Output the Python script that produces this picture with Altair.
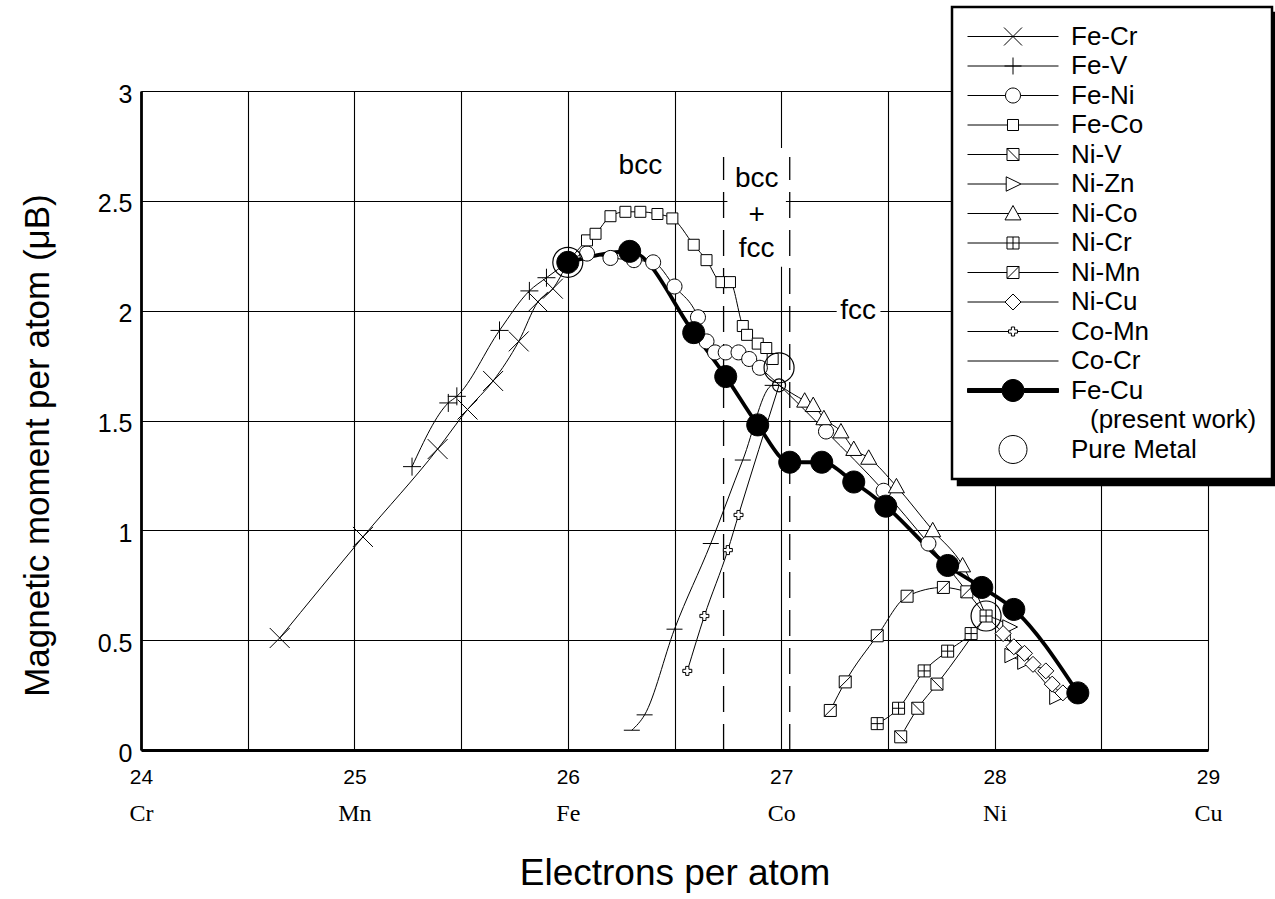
import altair as alt
import pandas as pd

SANS = "Liberation Sans"
SERIF = "Liberation Serif"

# ---------------- values ----------------
x_ticks = [24, 25, 26, 27, 28, 29]
elements = ["Cr", "Mn", "Fe", "Co", "Ni", "Cu"]
x_grid = [24, 24.5, 25, 25.5, 26, 26.5, 27, 27.5, 28, 28.5, 29]
y_grid = [0, 0.5, 1, 1.5, 2, 2.5, 3]

pure_names = ["Fe", "Co", "Ni"]
pure_x = [26.00, 26.99, 27.96]
pure_y = [2.22, 1.74, 0.61]
co_small_x = [26.99]
co_small_y = [1.66]

fe_cr_x = [24.65, 25.04, 25.39, 25.53, 25.65, 25.77, 25.86, 25.93]
fe_cr_y = [0.51, 0.97, 1.37, 1.55, 1.68, 1.86, 2.04, 2.10]

fe_v_x = [25.27, 25.44, 25.48, 25.68, 25.82, 25.90]
fe_v_y = [1.29, 1.58, 1.61, 1.91, 2.09, 2.15]

fe_ni_x = [26.09, 26.20, 26.31, 26.40, 26.50, 26.61, 26.65, 26.69, 26.74, 26.80,
           26.85, 26.90, 27.21, 27.48, 27.69]
fe_ni_y = [2.26, 2.24, 2.23, 2.22, 2.11, 1.97, 1.86, 1.81, 1.81, 1.81,
           1.78, 1.74, 1.45, 1.18, 0.94]

fe_co_x = [26.09, 26.13, 26.20, 26.27, 26.34, 26.42, 26.49, 26.59, 26.65, 26.72,
           26.76, 26.82, 26.84, 26.89, 26.93, 26.96]
fe_co_y = [2.32, 2.35, 2.43, 2.45, 2.45, 2.44, 2.42, 2.30, 2.23, 2.13,
           2.13, 1.93, 1.89, 1.85, 1.83, 1.78]

ni_v_x = [27.56, 27.64, 27.73]
ni_v_y = [0.06, 0.19, 0.30]

ni_zn_x = [28.07, 28.08, 28.14, 28.29]
ni_zn_y = [0.56, 0.43, 0.40, 0.24]

ni_co_x = [27.11, 27.15, 27.20, 27.28, 27.34, 27.41, 27.54, 27.71, 27.85]
ni_co_y = [1.59, 1.57, 1.51, 1.45, 1.37, 1.33, 1.20, 1.00, 0.84]

ni_cr_x = [27.45, 27.55, 27.67, 27.78, 27.89, 27.96]
ni_cr_y = [0.12, 0.19, 0.36, 0.45, 0.53, 0.61]

ni_mn_x = [27.23, 27.30, 27.45, 27.59, 27.76, 27.87]
ni_mn_y = [0.18, 0.31, 0.52, 0.70, 0.74, 0.72]

ni_cu_x = [28.04, 28.09, 28.14, 28.18, 28.24, 28.27, 28.32]
ni_cu_y = [0.53, 0.47, 0.44, 0.39, 0.36, 0.30, 0.26]

co_mn_x = [26.56, 26.64, 26.75, 26.80]
co_mn_y = [0.36, 0.61, 0.91, 1.07]

co_cr_x = [26.30, 26.36, 26.50, 26.67, 26.82, 26.96]
co_cr_y = [0.09, 0.16, 0.55, 0.94, 1.32, 1.66]

fe_cu_x = [26.00, 26.29, 26.59, 26.74, 26.89, 27.04, 27.19, 27.34, 27.49, 27.78,
           27.94, 28.09, 28.39]
fe_cu_y = [2.22, 2.27, 1.90, 1.70, 1.48, 1.31, 1.31, 1.22, 1.11, 0.84,
           0.74, 0.64, 0.26]

# annotations
ann_text = ["bcc", "bcc", "+", "fcc", "fcc"]
ann_x = [26.34, 26.885, 26.885, 26.885, 27.36]
ann_y = [2.66, 2.60, 2.435, 2.28, 2.00]
box_x1 = [26.748, 27.26]
box_x2 = [27.022, 27.465]
box_y1 = [2.20, 1.95]
box_y2 = [2.74, 2.05]
phase_x = [26.73, 27.04]
phase_top = [2.70, 2.70]

# ---------------- marker shapes (unit paths) ----------------
def f(v):
    return f"{v:.4f}"

def p_x(a): return f"M{f(-a)},{f(-a)}L{f(a)},{f(a)}M{f(-a)},{f(a)}L{f(a)},{f(-a)}"
def p_plus(a): return f"M{f(-a)},0L{f(a)},0M0,{f(-a)}L0,{f(a)}"
def p_circ(a): return f"M{f(-a)},0A{f(a)},{f(a)} 0 1,0 {f(a)},0A{f(a)},{f(a)} 0 1,0 {f(-a)},0Z"
def p_sq(a): return f"M{f(-a)},{f(-a)}L{f(a)},{f(-a)}L{f(a)},{f(a)}L{f(-a)},{f(a)}Z"
def p_sq_bs(a): return p_sq(a) + f"M{f(-a)},{f(-a)}L{f(a)},{f(a)}"
def p_sq_fs(a): return p_sq(a) + f"M{f(-a)},{f(a)}L{f(a)},{f(-a)}"
def p_sq_plus(a): return p_sq(a) + p_plus(a)
def p_tri_r(a): return f"M{f(-0.85*a)},{f(-0.9*a)}L{f(a)},0L{f(-0.85*a)},{f(0.9*a)}Z"
def p_tri_u(a): return f"M{f(-a)},{f(0.8*a)}L0,{f(-a)}L{f(a)},{f(0.8*a)}Z"
def p_diam(a): return f"M{f(-a)},0L0,{f(-a)}L{f(a)},0L0,{f(a)}Z"
def p_cross(a):
    b = 0.36 * a
    pts = [(-b, -a), (b, -a), (b, -b), (a, -b), (a, b), (b, b), (b, a), (-b, a),
           (-b, b), (-a, b), (-a, -b), (-b, -b)]
    return "M" + "L".join(f"{f(x)},{f(y)}" for x, y in pts) + "Z"
def p_dash(a): return f"M{f(-a)},0L{f(a)},0"

def h_line(left, right): return f"M-1,0L{f(left)},0M{f(right)},0L1,0"

FE = (pure_x[0], pure_y[0])
NI = (pure_x[2], pure_y[2])
COS = (co_small_x[0], co_small_y[0])

# name, x, y, line start, line end, shape, plot px, legend half px, fill, legend line gap
series = [
    ("Fe-Cr", fe_cr_x, fe_cr_y, None, FE, p_x, 20, 9.0, "white", None),
    ("Fe-V", fe_v_x, fe_v_y, None, FE, p_plus, 18, 8.5, "white", None),
    ("Fe-Ni", fe_ni_x, fe_ni_y, FE, NI, p_circ, 15, 7.5, "white", (1.0, 1.0)),
    ("Fe-Co", fe_co_x, fe_co_y, FE, None, p_sq, 11, 5.5, "white", (1.0, 1.0)),
    ("Ni-V", ni_v_x, ni_v_y, None, NI, p_sq_bs, 12, 6.0, "white", (1.0, 1.0)),
    ("Ni-Zn", ni_zn_x, ni_zn_y, NI, None, p_tri_r, 16, 8.0, "white", (0.85, 1.0)),
    ("Ni-Co", ni_co_x, ni_co_y, COS, NI, p_tri_u, 16, 8.0, "white", (0.556, 0.556)),
    ("Ni-Cr", ni_cr_x, ni_cr_y, None, None, p_sq_plus, 12, 6.0, "white", (1.0, 1.0)),
    ("Ni-Mn", ni_mn_x, ni_mn_y, None, None, p_sq_fs, 12, 6.0, "white", (1.0, 1.0)),
    ("Ni-Cu", ni_cu_x, ni_cu_y, NI, None, p_diam, 16, 8.0, "white", (1.0, 1.0)),
    ("Co-Mn", co_mn_x, co_mn_y, None, COS, p_cross, 9, 4.5, "white", (1.0, 1.0)),
    ("Co-Cr", co_cr_x, co_cr_y, None, COS, p_dash, 16, 0.0, "white", None),
    ("Fe-Cu", fe_cu_x, fe_cu_y, None, None, p_circ, 22, 11.0, "black", "thick"),
]

LEG_HALF = 45.5  # legend symbol half width in px

X_SCALE = alt.Scale(domain=[24, 29], nice=False, zero=False)
Y_SCALE = alt.Scale(domain=[0, 3], nice=False, zero=False)

def X(field="x", axis=None):
    return alt.X(f"{field}:Q", scale=X_SCALE, axis=axis)

def Y(field="y", axis=None):
    return alt.Y(f"{field}:Q", scale=Y_SCALE, axis=axis)

x_axis_main = alt.Axis(
    orient="bottom", values=x_grid, grid=True, gridColor="black", gridWidth=1.1,
    gridOpacity=1, domain=True, domainColor="black", domainWidth=2.8,
    ticks=False, tickSize=0,
    labelExpr="datum.value % 1 == 0 ? format(datum.value, 'd') : ''",
    labelFont=SANS, labelFontSize=21, labelColor="black", labelPadding=16,
    labelFlush=False, labelOverlap=False,
    title="Electrons per atom", titleFont=SANS, titleFontSize=37,
    titleFontWeight="normal", titleColor="black", titleY=134,
    titleBaseline="alphabetic",
)
elem_expr = "[" + ",".join(f"'{e}'" for e in elements) + "][round(datum.value) - 24]"
x_axis_elem = alt.Axis(
    orient="bottom", values=x_ticks, grid=False, domain=False, ticks=False, tickSize=0,
    labelExpr=elem_expr, labelFont=SERIF, labelFontSize=24, labelColor="black",
    labelPadding=51, labelFlush=False, labelOverlap=False, title=None,
)
y_axis_main = alt.Axis(
    orient="left", values=y_grid, grid=True, gridColor="black", gridWidth=1.1,
    gridOpacity=1, domain=True, domainColor="black", domainWidth=2.8,
    ticks=False, tickSize=0, format="~g",
    labelFont=SANS, labelFontSize=25, labelColor="black", labelPadding=9,
    labelOffset=3, labelOverlap=False,
    title="Magnetic moment per atom (μB)", titleFont=SANS, titleFontSize=35,
    titleFontWeight="normal", titleColor="black", titleX=-104, titleY=354,
    titleAngle=270, titleAlign="center", titleBaseline="middle",
)

layers = []

# white boxes behind phase labels
box_df = pd.DataFrame({"x": box_x1, "x2": box_x2, "y": box_y1, "y2": box_y2})
layers.append(
    alt.Chart(box_df).mark_rect(fill="white", strokeWidth=0).encode(
        x=X(), x2="x2:Q", y=Y(), y2="y2:Q"
    )
)

# dashed phase boundaries (carries the main axes)
dash_df = pd.DataFrame({"x": phase_x, "y": [0.0, 0.0], "y2": phase_top})
layers.append(
    alt.Chart(dash_df).mark_rule(color="black", strokeWidth=1.3, strokeDash=[26, 12]).encode(
        x=X(axis=x_axis_main), y=Y(axis=y_axis_main), y2="y2:Q"
    )
)

# element names axis
elem_df = pd.DataFrame({"x": x_ticks, "el": elements})
layers.append(
    alt.Chart(elem_df).mark_point(opacity=0, size=1).encode(x=X(axis=x_axis_elem))
)

def line_frame(xs, ys, start, end):
    px, py = list(xs), list(ys)
    if start is not None:
        px = [start[0]] + px
        py = [start[1]] + py
    if end is not None:
        px = px + [end[0]]
        py = py + [end[1]]
    return pd.DataFrame({"x": px, "y": py})

thin_lines, markers, fecu_line, fecu_pts = [], [], None, None
for name, xs, ys, st, en, shp, px, lh, fill, gap in series:
    ldf = line_frame(xs, ys, st, en)
    pdf = pd.DataFrame({"x": xs, "y": ys})
    if name == "Fe-Cu":
        fecu_line = alt.Chart(ldf).mark_line(
            color="black", strokeWidth=3.8, interpolate="monotone"
        ).encode(x=X(), y=Y())
        fecu_pts = alt.Chart(pdf).mark_point(
            shape=shp(1), size=px * px, filled=True, fill="black", stroke="black",
            strokeWidth=1, opacity=1, fillOpacity=1
        ).encode(x=X(), y=Y())
    else:
        thin_lines.append(
            alt.Chart(ldf).mark_line(
                color="black", strokeWidth=1, interpolate="monotone"
            ).encode(x=X(), y=Y())
        )
        markers.append(
            alt.Chart(pdf).mark_point(
                shape=shp(1), size=px * px, filled=True, fill=fill, stroke="black",
                strokeWidth=1, opacity=1, fillOpacity=1
            ).encode(x=X(), y=Y())
        )

layers += thin_lines
layers.append(fecu_line)
layers += markers
layers.append(fecu_pts)

# pure metals
pure_df = pd.DataFrame({"x": pure_x, "y": pure_y, "m": pure_names})
layers.append(
    alt.Chart(pure_df).mark_point(
        shape=p_circ(1), size=30 * 30, filled=False, stroke="black",
        strokeWidth=1.2, opacity=1
    ).encode(x=X(), y=Y())
)
cos_df = pd.DataFrame({"x": co_small_x, "y": co_small_y})
layers.append(
    alt.Chart(cos_df).mark_point(
        shape=p_circ(1), size=13 * 13, filled=False, stroke="black",
        strokeWidth=1.2, opacity=1
    ).encode(x=X(), y=Y())
)

# phase labels
ann_df = pd.DataFrame({"x": ann_x, "y": ann_y, "t": ann_text})
layers.append(
    alt.Chart(ann_df).mark_text(
        font=SANS, fontSize=28, color="black", align="center", baseline="middle"
    ).encode(x=X(), y=Y(), text="t:N")
)

# ---------------- legend (hidden dummy layers) ----------------
PW = "\u2800(present work)"
leg_keys, leg_paths, leg_fills = [], [], []
for name, xs, ys, st, en, shp, px, lh, fill, gap in series:
    a = lh / LEG_HALF
    if gap is None:
        path = "M-1,0L1,0" + (shp(a) if a > 0 else "")
    elif gap == "thick":
        t = 2.0 / LEG_HALF
        path = (f"M-1,{f(-t)}L{f(-a)},{f(-t)}L{f(-a)},{f(t)}L-1,{f(t)}Z"
                f"M{f(a)},{f(-t)}L1,{f(-t)}L1,{f(t)}L{f(a)},{f(t)}Z" + p_circ(a))
    else:
        path = h_line(-gap[0] * a, gap[1] * a) + shp(a)
    leg_keys.append(name)
    leg_paths.append(path)
    leg_fills.append(fill)
leg_keys.append(PW)
leg_paths.append("M0,0L0,0")
leg_fills.append("white")
leg_keys.append("Pure Metal")
leg_paths.append(p_circ(14 / LEG_HALF))
leg_fills.append("white")

LEG_X, LEG_Y = 811, -84

def legend_def(dx, dy, fill, label_color, z):
    return alt.Legend(
        orient="none", legendX=LEG_X + dx, legendY=LEG_Y + dy, title=None,
        fillColor=fill, strokeColor="black", padding=15, zindex=z,
        labelFont=SANS, labelFontSize=26, labelColor=label_color, labelLimit=320,
        labelOffset=12, rowPadding=0.5, clipHeight=29, symbolSize=91 * 91,
        symbolStrokeWidth=1, symbolStrokeColor="black", symbolOpacity=1,
    )

n = len(leg_keys)
# shadow copy of the legend box
sh_df = pd.DataFrame({"key2": leg_keys, "x": [25.0] * n, "y": [-1.0] * n})
sh_leg = legend_def(6, 6, "black", "black", 0)
layers.append(
    alt.Chart(sh_df).mark_point(filled=True, stroke="black", clip=True).encode(
        x=X(), y=Y(),
        shape=alt.Shape("key2:N", scale=alt.Scale(domain=leg_keys, range=leg_paths), legend=sh_leg),
        fill=alt.Fill("key2:N", scale=alt.Scale(domain=leg_keys, range=["black"] * n), legend=sh_leg),
        stroke=alt.Stroke("key2:N", scale=alt.Scale(domain=leg_keys, range=["black"] * n), legend=sh_leg),
    )
)
leg_df = pd.DataFrame({"key": leg_keys, "x": [25.0] * n, "y": [-1.0] * n})
main_leg = legend_def(0, 0, "white", "black", 1)
layers.append(
    alt.Chart(leg_df).mark_point(filled=True, stroke="black", clip=True).encode(
        x=X(), y=Y(),
        shape=alt.Shape("key:N", scale=alt.Scale(domain=leg_keys, range=leg_paths), legend=main_leg),
        fill=alt.Fill("key:N", scale=alt.Scale(domain=leg_keys, range=leg_fills), legend=main_leg),
        stroke=alt.Stroke("key:N", scale=alt.Scale(domain=leg_keys, range=["black"] * n), legend=main_leg),
    )
)

chart = (
    alt.layer(*layers)
    .resolve_axis(x="independent", y="independent")
    .resolve_scale(shape="independent", fill="independent", stroke="independent")
    .properties(
        width=1067, height=659,
        autosize=alt.AutoSizeParams(type="none"),
        padding={"left": 141, "top": 91, "right": 67, "bottom": 149},
        background="white",
    )
    .configure_view(stroke=None)
    .configure_legend(strokeWidth=2.5)
)

chart.save("out.html", embed_options={"renderer": "svg", "actions": False})
